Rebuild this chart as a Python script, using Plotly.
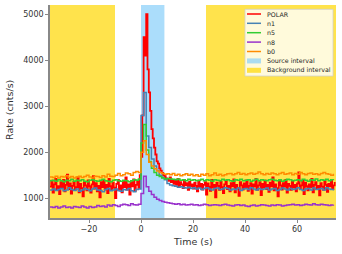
import numpy as np
import plotly.graph_objects as go

# ---------------- data ----------------
polar_dt = 0.5
polar_pre = [1250,1380,1120,1300,1420,1180,1260,1090,1350,1230,
             1400,1150,1290,1510,1200,1320,1100,1270,1360,1190,
             1240,1450,1130,1310,1220,1040,1340,1280,1170,1390,
             1260,1120,1300,1480,1210,1330,1150,1270,1020,1350,
             1240,1380,1190,1290,1110,1420,1260,1180,1340,1230,
             1000,1310,1400,1170,1280,1130,1360,1240,1450,1190,
             1300,1080,1350,1260,1410,1160,1290,1380,1220,1500]
polar_burst = [1900,2800,4500,4100,5000,3800,3300,2900,2500,2300,
               2100,1950,1800,1750,1650,1600,1550,1500,1480,1430]
polar_post = [1420,1380,1450,1350,1400,1310,1380,1290,1420,1260,
              1350,1300,1220,1390,1280,1330,1180,1360,1250,1300,
              1210,1340,1270,1150,1380,1240,1310,1190,1290,1350,
              1080,1320,1250,1160,1400,1230,1290,1020,1340,1270,
              1180,1360,1240,1110,1300,1380,1200,1270,1150,1330,
              1260,1410,1130,1290,1220,1050,1350,1280,1190,1320,
              1240,1390,1160,1270,1330,1100,1300,1250,1420,1180,
              1280,1350,1070,1310,1230,1380,1200,1290,1140,1340,
              1260,1450,1170,1300,1220,1040,1370,1280,1190,1330,
              1250,1400,1120,1310,1270,1180,1360,1230,1290,1150,
              1320,1560,1210,1280,1380,1090,1340,1260,1170,1300,
              1240,1420,1130,1290,1350,1200,1270,1060,1330,1250,
              1180,1370,1290,1140,1310,1260,1400,1200,1280,1350]
polar_rate = polar_pre + polar_burst + polar_post

gbm_dt = 1.0
n1_rate = [1180,1200,1170,1190,1210,1160,1180,1230,1190,1170,1200,1150,1180,1210,1190,1160,1200,1220,1180,1170,
           1140,1190,1210,1160,1180,1200,1170,1150,1190,1180,1210,1160,1140,1190,1200,
           2800,3300,2350,2100,1850,1700,1600,1500,1450,1400,
           1320,1290,1270,1260,1240,1250,1230,1220,1240,1210,1230,1200,1220,1190,1210,1230,1200,1180,1210,1220,
           1190,1200,1230,1210,1180,1200,1190,1220,1170,1200,1210,1190,1230,1200,1180,1210,1190,1200,1220,1180,
           1200,1210,1170,1190,1220,1200,1180,1210,1190,1200,1230,1190,1170,1200,1210,1180,1220,1190,1200,1210,
           1180,1230,1200,1190,1170]
n5_rate = [1380,1390,1370,1400,1380,1360,1390,1380,1410,1370,1390,1380,1400,1370,1360,1390,1400,1380,1370,1390,
           1410,1380,1370,1360,1390,1400,1380,1370,1390,1380,1360,1380,1400,1390,1420,
           2200,2600,2050,1800,1650,1560,1500,1470,1440,1420,
           1430,1420,1410,1400,1420,1390,1400,1380,1410,1390,1400,1380,1390,1410,1380,1400,1390,1370,1400,1390,
           1380,1410,1390,1400,1380,1370,1400,1390,1410,1380,1390,1400,1370,1390,1410,1380,1400,1390,1380,1400,
           1410,1390,1380,1400,1370,1390,1410,1400,1380,1390,1400,1380,1410,1390,1370,1400,1390,1420,1380,1400,
           1390,1410,1380,1400,1390]
n8_rate = [810,800,820,790,810,830,800,810,790,820,810,800,830,810,790,820,800,810,840,820,
           830,810,850,830,860,840,820,850,870,860,840,880,860,850,870,
           1100,1480,1250,1150,1080,1020,980,950,930,910,
           900,890,880,870,880,860,870,850,860,870,850,860,840,850,870,860,840,850,860,850,
           840,860,870,850,840,830,850,860,840,850,830,820,840,850,830,840,860,850,840,830,
           850,840,860,850,830,840,850,860,870,850,860,840,850,870,860,850,880,860,850,870,
           860,850,840,850,860]
b0_rate = [1460,1450,1480,1440,1470,1460,1490,1450,1470,1440,1460,1480,1450,1470,1500,1460,1440,1480,1470,1450,
           1490,1460,1520,1480,1470,1500,1540,1490,1510,1550,1530,1500,1560,1580,1560,
           2000,2250,1950,1780,1700,1640,1590,1560,1540,1520,
           1530,1510,1540,1500,1520,1490,1510,1530,1500,1520,1490,1510,1480,1520,1500,1530,1490,1510,1550,1500,
           1520,1490,1510,1530,1540,1510,1530,1560,1520,1540,1510,1530,1550,1520,1540,1570,1530,1510,1540,1520,
           1550,1530,1510,1540,1560,1520,1530,1550,1510,1540,1520,1560,1530,1510,1540,1550,1520,1530,1510,1540,
           1560,1530,1520,1500,1530]

t_start = -35.0
source_interval = [0, 9]
background_intervals = [[-40, -10], [25, 80]]

x_range = [-35, 75]
y_range = [570, 5200]
x_ticks = [-20, 0, 20, 40, 60]
y_ticks = [1000, 2000, 3000, 4000, 5000]

t_polar = t_start + polar_dt * np.arange(len(polar_rate))
t_gbm = t_start + gbm_dt * np.arange(len(n1_rate))

# ---------------- figure ----------------
W, H = 342, 254
ML, MR, MT, MB = 50, 6, 5, 36
PW, PH = W - ML - MR, H - MT - MB


def px(xp):
    return (xp - ML) / PW


def py(yp):
    return (H - MB - yp) / PH


fig = go.Figure()

series = [("POLAR", t_polar, polar_rate, "#ff0000", 1.8),
          ("n1", t_gbm, n1_rate, "#4682b4", 1.5),
          ("n5", t_gbm, n5_rate, "#32cd32", 1.5),
          ("n8", t_gbm, n8_rate, "#9932cc", 1.5),
          ("b0", t_gbm, b0_rate, "#ff8c00", 1.5)]
for name, t, r, c, w in series:
    fig.add_trace(go.Scatter(x=t, y=r, mode="lines", name=name, showlegend=False,
                             line=dict(color=c, width=w, shape="hv")))

src_col = "rgba(135,206,250,0.7)"
bg_col = "rgba(255,215,0,0.7)"

shapes = []
for a, b in background_intervals:
    shapes.append(dict(type="rect", xref="x", yref="paper", x0=a, x1=b, y0=0, y1=1,
                       fillcolor=bg_col, line=dict(width=0), layer="below"))
shapes.append(dict(type="rect", xref="x", yref="paper", x0=source_interval[0],
                   x1=source_interval[1], y0=0, y1=1,
                   fillcolor=src_col, line=dict(width=0), layer="below"))

# manual matplotlib-style legend
annotations = []
shapes.append(dict(type="rect", xref="paper", yref="paper",
                   x0=px(245), x1=px(333), y0=py(76), y1=py(9.3),
                   fillcolor="rgba(255,255,255,0.8)", line=dict(color="#d0d0d0", width=0.8),
                   layer="above"))
legend_items = [(s[0], "line", s[3]) for s in series] + \
               [("Source interval", "patch", src_col), ("Background interval", "patch", bg_col)]
row_y = [14, 23.3, 32.7, 42.1, 51.5, 60.9, 70.3]
for (label, kind, col), yy in zip(legend_items, row_y):
    if kind == "line":
        shapes.append(dict(type="line", xref="paper", yref="paper",
                           x0=px(247), x1=px(261), y0=py(yy), y1=py(yy),
                           line=dict(color=col, width=1.5), layer="above"))
    else:
        shapes.append(dict(type="rect", xref="paper", yref="paper",
                           x0=px(247), x1=px(261), y0=py(yy + 2.5), y1=py(yy - 2.5),
                           fillcolor=col, line=dict(width=0), layer="above"))
    annotations.append(dict(xref="paper", yref="paper", x=px(265), y=py(yy),
                            xanchor="left", yanchor="middle", text=label, showarrow=False,
                            font=dict(size=6.3, color="#222")))

# axis titles
annotations.append(dict(xref="paper", yref="paper", x=px(193), y=py(241), text="Time (s)",
                        showarrow=False, xanchor="center", yanchor="middle",
                        font=dict(size=9.5, color="#333")))
annotations.append(dict(xref="paper", yref="paper", x=px(9), y=py(110), text="Rate (cnts/s)",
                        showarrow=False, xanchor="center", yanchor="middle", textangle=-90,
                        font=dict(size=9.5, color="#333")))

fig.update_layout(
    width=W, height=H,
    margin=dict(l=ML, r=MR, t=MT, b=MB),
    plot_bgcolor="white", paper_bgcolor="white",
    font=dict(family="DejaVu Sans", size=8, color="#333"),
    shapes=shapes, annotations=annotations,
    showlegend=False,
    xaxis=dict(range=x_range, tickvals=x_ticks, showgrid=False, zeroline=False,
               showline=True, linecolor="#888", linewidth=1.5, ticks="outside",
               ticklen=3, tickcolor="#888", automargin=False),
    yaxis=dict(range=y_range, tickvals=y_ticks, showgrid=False, zeroline=False,
               showline=True, linecolor="#888", linewidth=1.5, ticks="outside",
               ticklen=3, tickcolor="#888", automargin=False),
)

fig.write_html("out.html", config={"displayModeBar": False},
               post_script="document.body.style.margin='0';document.body.style.padding='0';")
